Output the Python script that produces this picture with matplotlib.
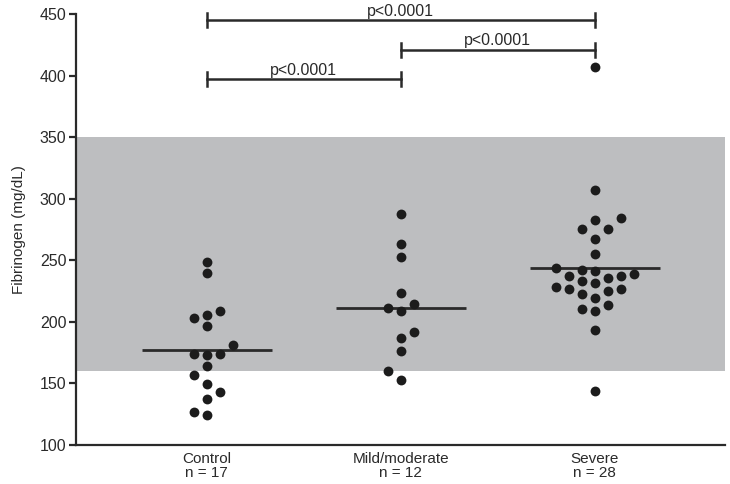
import numpy as np
import matplotlib
matplotlib.use('Agg')
import matplotlib.pyplot as plt

###############################################
## Data
###############################################

groups = ['Control', 'Mild/moderate', 'Severe']
group_n = [17, 12, 28]

control = [249.0, 239.6, 208.8, 205.8, 203.1, 196.6, 181.5, 173.9, 173.1,
           173.9, 163.9, 156.9, 149.4, 142.9, 137.0, 124.0, 126.4]
mild = [287.7, 263.4, 252.5, 223.4, 214.2, 211.5, 208.5, 191.8, 186.6,
        176.1, 160.2, 152.8]
severe = [406.8, 307.4, 284.4, 282.5, 275.5, 275.5, 266.9, 254.7, 243.6,
          241.7, 242.5, 237.4, 235.3, 237.2, 238.8, 231.2, 233.4, 226.9,
          225.0, 222.8, 226.3, 228.2, 219.3, 213.4, 208.5, 210.4, 193.1, 143.7]
medians = [177.4, 211.2, 243.4]

normal_range = [160, 350]

# comparisons: (group a, group b, label)
comparisons = [(0, 2, 'p<0.0001'), (1, 2, 'p<0.0001'), (0, 1, 'p<0.0001')]
bracket_y = [445, 421, 397]

###############################################
## Simple column swarm layout
###############################################

def swarm_offsets(vals, gap):
    order = np.argsort(vals)
    cols = {}
    offs = np.zeros(len(vals))
    for i in order:
        v = vals[i]
        d = 0
        placed = False
        while not placed:
            if d == 0:
                cands = [0]
            else:
                left = sum(len(cols[k]) for k in cols if k < 0)
                right = sum(len(cols[k]) for k in cols if k > 0)
                cands = [-d, d] if left <= right else [d, -d]
            for k in cands:
                if all(abs(v - u) >= gap for u in cols.get(k, [])):
                    cols.setdefault(k, []).append(v)
                    offs[i] = k
                    placed = True
                    break
            d += 1
    return offs

###############################################
## Plot
###############################################

plt.rcParams['font.family'] = ['Liberation Sans', 'DejaVu Sans']
ink = '#2a2a2a'

fig = plt.figure(figsize=(7.3, 4.84), dpi=100)
ax = fig.add_axes([76 / 730, 39 / 484, 649 / 730, 431 / 484])

ax.axhspan(normal_range[0], normal_range[1], color='#bdbec0', lw=0, zorder=0)

col_w = 0.067
for i, vals in enumerate([control, mild, severe]):
    vals = np.array(vals)
    offs = swarm_offsets(vals, 9.0)
    ax.scatter(i + offs * col_w, vals, s=50, color='#1c1c1c', lw=0, zorder=3)
    ax.hlines(medians[i], i - 0.335, i + 0.335, color=ink, lw=2, zorder=2)

tick_h = 5.7
for (a, b, label), y in zip(comparisons, bracket_y):
    ax.plot([a, b], [y, y], color=ink, lw=1.8, clip_on=False, zorder=4)
    ax.plot([a, a], [y - tick_h, y + tick_h], color=ink, lw=1.8, clip_on=False)
    ax.plot([b, b], [y - tick_h, y + tick_h], color=ink, lw=1.8, clip_on=False)
    ax.text((a + b) / 2, y + 1.0, label, ha='center', va='bottom',
            fontsize=11.5, color=ink, clip_on=False)

ax.set_xlim(-0.674, 2.672)
ax.set_ylim(100, 450)
ax.set_yticks(np.arange(100, 451, 50))
ax.set_xticks(range(len(groups)))
ax.set_xticklabels(['{}\nn = {}'.format(g, n) for g, n in zip(groups, group_n)],
                   linespacing=1.0)

ax.spines['top'].set_visible(False)
ax.spines['right'].set_visible(False)
for s in ['left', 'bottom']:
    ax.spines[s].set_color(ink)
    ax.spines[s].set_linewidth(1.6)

ax.tick_params(axis='y', length=5, width=1.6, color=ink, labelsize=11.5,
               labelcolor=ink, pad=2)
ax.tick_params(axis='x', length=0, labelsize=11, labelcolor=ink, pad=5)
ax.set_ylabel('Fibrinogen (mg/dL)', fontsize=11, color=ink, labelpad=10)

fig.savefig('out.png', dpi=100)
